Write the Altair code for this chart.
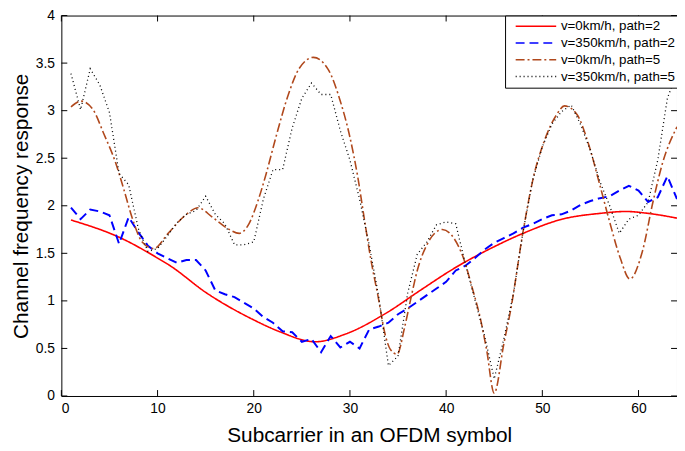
import altair as alt
import pandas as pd

# ---- data ----
series_names = ["v=0km/h, path=2", "v=350km/h, path=2", "v=0km/h, path=5", "v=350km/h, path=5"]
series_colors = ["#ff0000", "#0000ff", "#b0481c", "#000000"]
series_dash = [[1, 0], [9, 5], [9, 3, 2, 3], [1, 3]]
series_widths = [1.6, 2.0, 1.6, 1.3]

red_x = [1, 6.2, 10, 11.3, 15, 20, 22.6, 26.4, 29.5, 33.9, 37.3, 40.8, 45.2, 48, 52.1, 56, 58.7, 61, 64]
red_y = [1.85, 1.66, 1.45, 1.37, 1.09, 0.80, 0.68, 0.57, 0.65, 0.88, 1.11, 1.34, 1.58, 1.71, 1.86, 1.92, 1.94, 1.92, 1.87]

blue_x = list(range(1, 65))
blue_y = [1.98, 1.86, 1.96, 1.94, 1.90, 1.60, 1.88, 1.72, 1.58, 1.50,
          1.45, 1.40, 1.43, 1.43, 1.32, 1.11, 1.07, 1.04, 0.98, 0.92,
          0.83, 0.77, 0.68, 0.67, 0.57, 0.60, 0.46, 0.63, 0.51, 0.57,
          0.50, 0.70, 0.73, 0.77, 0.86, 0.92, 0.99, 1.06, 1.13, 1.20,
          1.32, 1.37, 1.45, 1.54, 1.61, 1.66, 1.71, 1.77, 1.81, 1.86,
          1.90, 1.91, 1.95, 2.01, 2.05, 2.08, 2.10, 2.16, 2.21, 2.16,
          2.04, 2.09, 2.31, 2.07]

brown_x = [1, 2.06, 3.3, 4.4, 5.65, 6.5, 7.4, 8.4, 9.6, 11.1, 13, 14.2, 15.7, 17.3, 18.5, 19.5,
           20.4, 21.3, 22.3, 23.6, 24.7, 26.2, 27.7, 29, 30, 30.8, 31.5, 32.2, 32.9, 33.7,
           34.2, 34.9, 35.7, 36.3, 37, 38, 39.6, 40.8, 41.8, 42.7, 43.5, 44.2, 45, 46,
           46.7, 48, 49.1, 50.2, 51.5, 52.3, 53.6, 54.8, 56, 57, 58.1, 59.1, 60.4, 61.5,
           62.5, 64]
brown_y = [3.04, 3.10, 3.01, 2.76, 2.45, 2.17, 1.86, 1.62, 1.55, 1.71, 1.91, 1.98, 1.88, 1.76, 1.71, 1.81,
           2.04, 2.34, 2.72, 3.17, 3.44, 3.56, 3.44, 3.10, 2.72, 2.31, 1.86, 1.42, 1.06, 0.63,
           0.49, 0.44, 0.73, 1.01, 1.32, 1.59, 1.75, 1.66, 1.45, 1.14, 0.84, 0.49, 0.03, 0.55,
           0.90, 1.73, 2.31, 2.68, 2.96, 3.05, 2.96, 2.65, 2.21, 1.83, 1.45, 1.23, 1.52, 2.04,
           2.45, 2.83]

black_x = list(range(1, 65))
black_y = [3.39, 3.01, 3.44, 3.27, 2.98, 2.34, 2.22, 1.76, 1.52, 1.55,
           1.68, 1.82, 1.91, 1.95, 2.10, 1.91, 1.81, 1.59, 1.59, 1.62,
           2.07, 2.38, 2.38, 2.82, 3.13, 3.29, 3.17, 3.17, 2.79, 2.48,
           2.07, 1.59, 1.04, 0.32, 0.42, 1.08, 1.49, 1.62, 1.80, 1.83,
           1.81, 1.39, 1.01, 0.63, 0.18, 0.60, 1.08, 1.73, 2.27, 2.62,
           2.86, 2.99, 3.06, 2.85, 2.58, 2.25, 2.00, 1.71, 1.86, 1.90,
           2.04, 2.48, 3.13, 3.40]

x_ticks = [0, 10, 20, 30, 40, 50, 60]
y_ticks = [0, 0.5, 1, 1.5, 2, 2.5, 3, 3.5, 4]

W, H = 623, 385
FONT = "Liberation Sans"

xs = [red_x, blue_x, brown_x, black_x]
ys = [red_y, blue_y, brown_y, black_y]

x_scale = alt.Scale(domain=[0, 64], nice=False, zero=False)
y_scale = alt.Scale(domain=[0, 4], nice=False)
color_scale = alt.Scale(domain=series_names, range=series_colors)
dash_scale = alt.Scale(domain=series_names, range=series_dash)

x_axis = alt.Axis(values=x_ticks, title="Subcarrier in an OFDM symbol", ticks=False,
                  domain=False, grid=False, labelFontSize=14, titleFontSize=21,
                  labelPadding=6, titlePadding=9, labelFont=FONT, titleFont=FONT,
                  titleFontWeight="normal", labelColor="black", titleColor="black")
y_axis = alt.Axis(values=y_ticks, title="Channel frequency response", ticks=False,
                  domain=False, grid=False, labelFontSize=14, titleFontSize=21,
                  labelPadding=7, titleX=-30, format="~g", labelFont=FONT, titleFont=FONT,
                  titleFontWeight="normal", labelColor="black", titleColor="black",
                  labelFlush=False)

layers = []
for i, name in enumerate(series_names):
    df = pd.DataFrame({"x": xs[i], "y": ys[i], "series": name})
    interp = "monotone" if i in (0, 2) else "linear"
    layer = alt.Chart(df).mark_line(strokeWidth=series_widths[i], clip=True, interpolate=interp).encode(
        x=alt.X("x:Q", scale=x_scale, axis=x_axis),
        y=alt.Y("y:Q", scale=y_scale, axis=y_axis),
        color=alt.Color("series:N", scale=color_scale, legend=alt.Legend(title=None)),
        strokeDash=alt.StrokeDash("series:N", scale=dash_scale, legend=alt.Legend(title=None)),
    )
    layers.append(layer)

xt = pd.DataFrame({"x": x_ticks})
yt = pd.DataFrame({"y": y_ticks})
tick_bottom = alt.Chart(xt).mark_rule(color="black", strokeWidth=1).encode(
    x=alt.X("x:Q", scale=x_scale, axis=x_axis), y=alt.value(H), y2=alt.value(H - 6))
tick_top = alt.Chart(xt).mark_rule(color="black", strokeWidth=1).encode(
    x=alt.X("x:Q", scale=x_scale, axis=x_axis), y=alt.value(0), y2=alt.value(6))
tick_left = alt.Chart(yt).mark_rule(color="black", strokeWidth=1).encode(
    y=alt.Y("y:Q", scale=y_scale, axis=y_axis), x=alt.value(0), x2=alt.value(6))
tick_right = alt.Chart(yt).mark_rule(color="black", strokeWidth=1).encode(
    y=alt.Y("y:Q", scale=y_scale, axis=y_axis), x=alt.value(W), x2=alt.value(W - 6))

chart = alt.layer(*layers, tick_bottom, tick_top, tick_left, tick_right).properties(
    width=W, height=H,
    autosize=alt.AutoSizeParams(type="none"),
    padding={"left": 54, "top": 5, "right": 0, "bottom": 51},
).configure_view(
    stroke="black", strokeWidth=1
).configure_legend(
    orient="none", legendX=449, legendY=0,
    strokeColor="black", fillColor="white", padding=4,
    labelFont=FONT, labelFontSize=13.5, labelColor="black",
    symbolType="M0,0H8.2", symbolSize=100, symbolStrokeWidth=1.6,
    rowPadding=2, labelOffset=39, cornerRadius=0,
)

chart.save("out.html", embed_options={"renderer": "svg", "actions": False})
